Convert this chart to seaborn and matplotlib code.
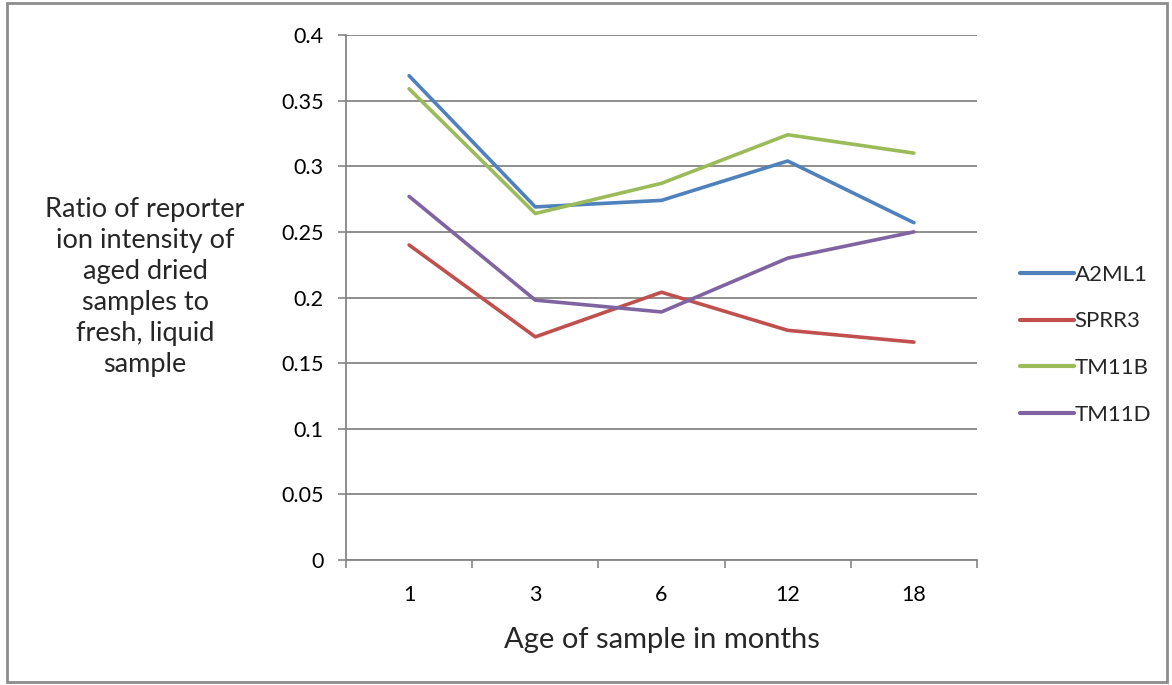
import numpy as np
import pandas as pd
import matplotlib
matplotlib.use("Agg")
import matplotlib.pyplot as plt
from matplotlib.patches import Rectangle
from matplotlib.ticker import FixedLocator
import seaborn as sns

# Sample ages (months) and reporter-ion intensity ratios per protein
ages = ["1", "3", "6", "12", "18"]
a2ml1 = [0.369, 0.269, 0.274, 0.304, 0.257]
sprr3 = [0.240, 0.170, 0.204, 0.175, 0.166]
tm11b = [0.359, 0.264, 0.287, 0.324, 0.310]
tm11d = [0.277, 0.198, 0.189, 0.230, 0.250]
proteins = ["A2ML1", "SPRR3", "TM11B", "TM11D"]
y_ticks = [0, 0.05, 0.1, 0.15, 0.2, 0.25, 0.3, 0.35, 0.4]
y_tick_labels = ["0", "0.05", "0.1", "0.15", "0.2", "0.25", "0.3", "0.35", "0.4"]

colors = ["#4F81BD", "#C0504D", "#9BBB59", "#8064A2"]

df = pd.DataFrame({
    "pos": np.tile(np.arange(len(ages)), len(proteins)),
    "ratio": a2ml1 + sprr3 + tm11b + tm11d,
    "protein": np.repeat(proteins, len(ages)),
})

sns.set_style("white")
plt.rcParams["font.family"] = ["Lato", "DejaVu Sans"]

fig = plt.figure(figsize=(11.72, 6.85), dpi=100)
ax = fig.add_axes([346 / 1172, 1 - 560 / 685, (977 - 346) / 1172, (560 - 35) / 685])

sns.lineplot(data=df, x="pos", y="ratio", hue="protein", hue_order=proteins,
             palette=colors, linewidth=2.6, ax=ax, legend=True)

grid_c = "#868686"
ax.set_xlim(-0.5, len(ages) - 0.5)
ax.set_ylim(0, 0.4)
ax.set_yticks(y_ticks)
ax.set_yticklabels(y_tick_labels, fontsize=15.5, color="black")
ax.set_xticks(range(len(ages)))
ax.set_xticklabels(ages, fontsize=15.5, color="black")
ax.xaxis.set_minor_locator(FixedLocator(np.arange(-0.5, len(ages), 1.0)))
ax.tick_params(axis="x", which="major", length=0, pad=18)
ax.tick_params(axis="x", which="minor", length=6, width=1.2, color=grid_c, direction="out", bottom=True)
ax.tick_params(axis="y", length=6, width=1.2, color=grid_c, direction="out", left=True, pad=10)
ax.yaxis.grid(True, color=grid_c, linewidth=1.3)
ax.set_axisbelow(True)
for side in ["top", "right"]:
    ax.spines[side].set_visible(False)
for side in ["left", "bottom"]:
    ax.spines[side].set_color(grid_c)
    ax.spines[side].set_linewidth(1.3)

ax.set_xlabel("Age of sample in months", fontsize=21, labelpad=16)
ax.set_ylabel("")
fig.text(145 / 1172, 1 - 287 / 685,
         "Ratio of reporter\nion intensity of\naged dried\nsamples to\nfresh, liquid\nsample",
         ha="center", va="center", fontsize=19.5, linespacing=1.3)

leg = ax.legend(loc="center left", bbox_to_anchor=(1.037, 0.41), frameon=False,
                fontsize=16, handlelength=2.4, handletextpad=0.05, labelspacing=1.2)
for line in leg.get_lines():
    line.set_linewidth(3)

fig.patches.append(Rectangle((7 / 1172, 3 / 685), 1160 / 1172, 679 / 685,
                             transform=fig.transFigure, fill=False,
                             edgecolor="#8c8c8c", linewidth=2))

fig.savefig("out.png", dpi=100)
